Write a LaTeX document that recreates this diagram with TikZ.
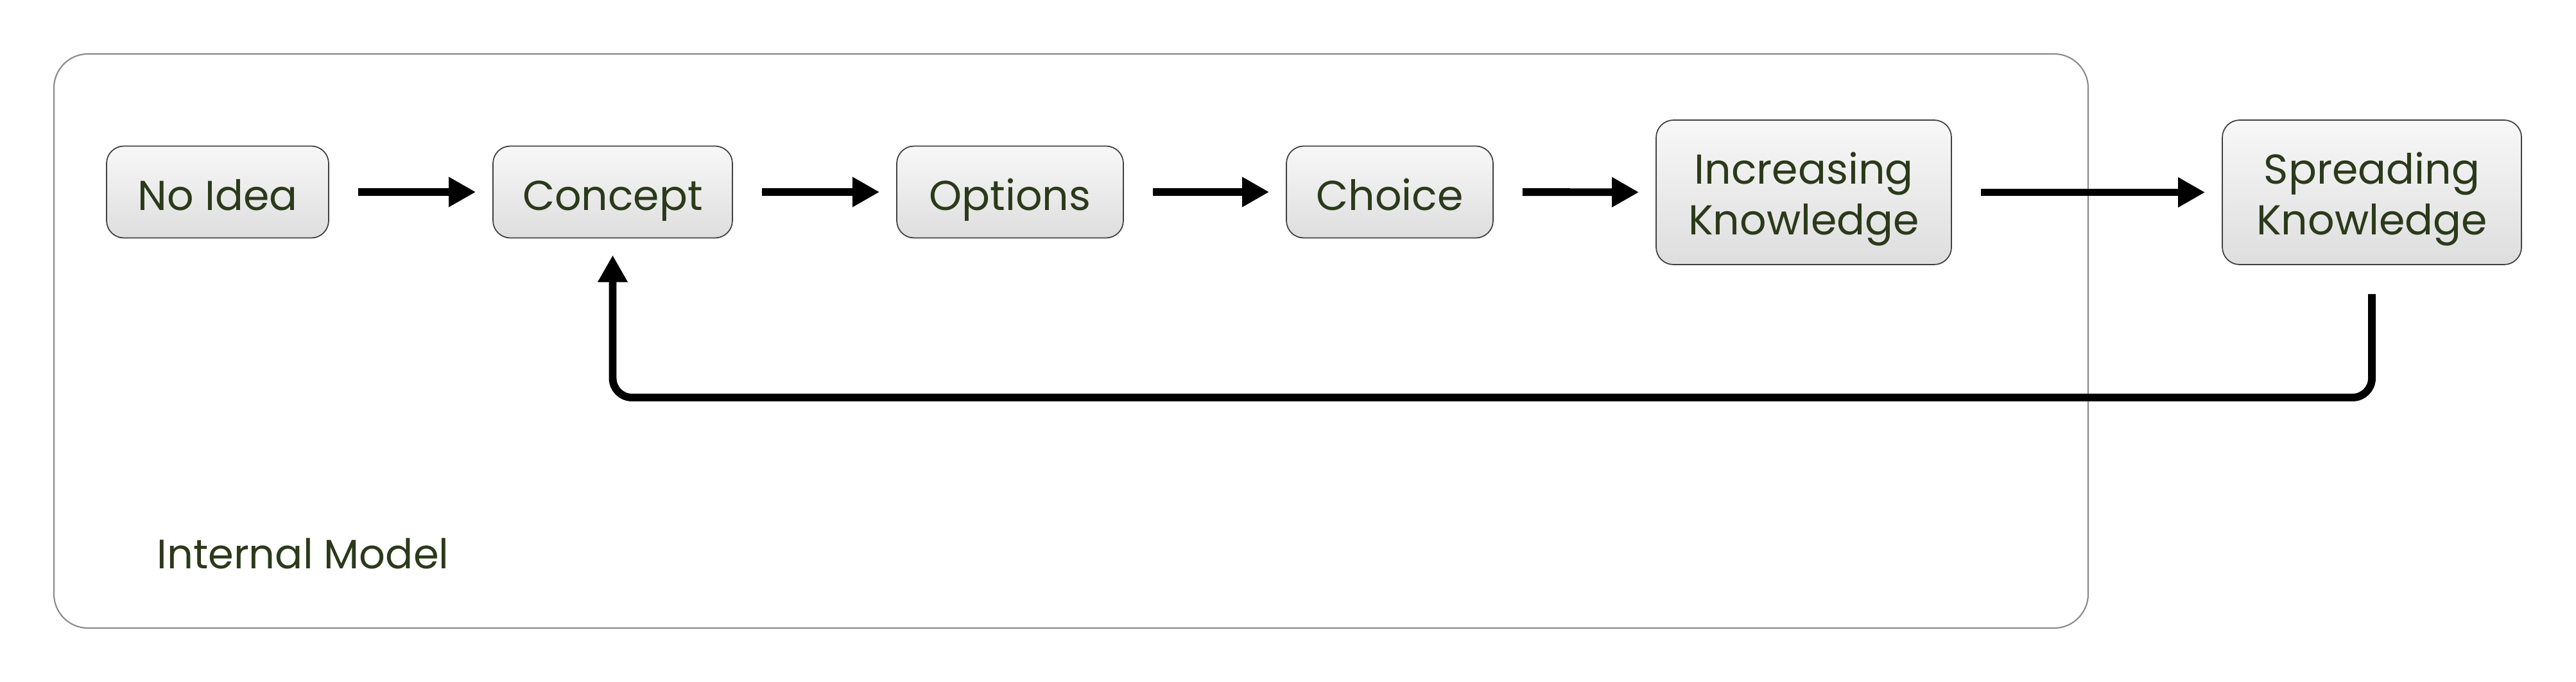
\documentclass[tikz,border=0pt]{standalone}
\usepackage{fontspec}
\setmainfont{Poppins}
\usepackage{tikz}
\usetikzlibrary{arrows.meta}
\definecolor{txtgreen}{HTML}{2A3A1A}
\definecolor{framegray}{HTML}{8A8A8A}

\begin{document}
\begin{tikzpicture}[
  stage/.style={draw=black!75, line width=0.5pt, rounded corners=0.27cm,
    top color=white!97!black, bottom color=white!87!black,
    text=txtgreen, align=center, inner sep=0pt,
    font=\fontsize{18.5}{22.5}\selectfont},
  oneline/.style={text height=17pt, text depth=1pt},
  twoline/.style={text height=38.8pt, text depth=1pt},
  flow/.style={line width=3.4pt, -{Triangle[length=0.42cm,width=0.44cm]},
    shorten <=0.45cm, shorten >=0.26cm}
]
\useasboundingbox (0,0) rectangle (40.13,10.61);
\draw[framegray, line width=0.6pt, rounded corners=0.53cm] (0.84,0.83) rectangle (32.53,9.77);
\node[anchor=west, text=txtgreen, font=\fontsize{18.2}{22.5}\selectfont] (internal) at (2.32,1.99) {Internal Model};
\node[stage, oneline, minimum width=3.46cm, minimum height=1.43cm] (noidea) at (3.39,7.62) {No Idea};
\node[stage, oneline, minimum width=3.73cm, minimum height=1.43cm] (concept) at (9.545,7.62) {Concept};
\node[stage, oneline, minimum width=3.53cm, minimum height=1.43cm] (options) at (15.735,7.62) {Options};
\node[stage, oneline, minimum width=3.22cm, minimum height=1.43cm] (choice) at (21.65,7.62) {Choice};
\node[stage, twoline, minimum width=4.60cm, minimum height=2.25cm] (increase) at (28.10,7.615) {Increasing\\Knowledge};
\node[stage, twoline, minimum width=4.66cm, minimum height=2.25cm] (spread) at (36.95,7.615) {Spreading\\Knowledge};
\coordinate (loop) at (0,4.42);
\draw[flow] (noidea) -- (concept);
\draw[flow] (concept) -- (options);
\draw[flow] (options) -- (choice);
\draw[flow] (choice) -- (increase);
\draw[flow] (increase) -- (spread);
\draw[flow, rounded corners=0.3cm] (spread.south) -- (spread.south |- loop) -- (concept.south |- loop) -- (concept.south);
\end{tikzpicture}
\end{document}
